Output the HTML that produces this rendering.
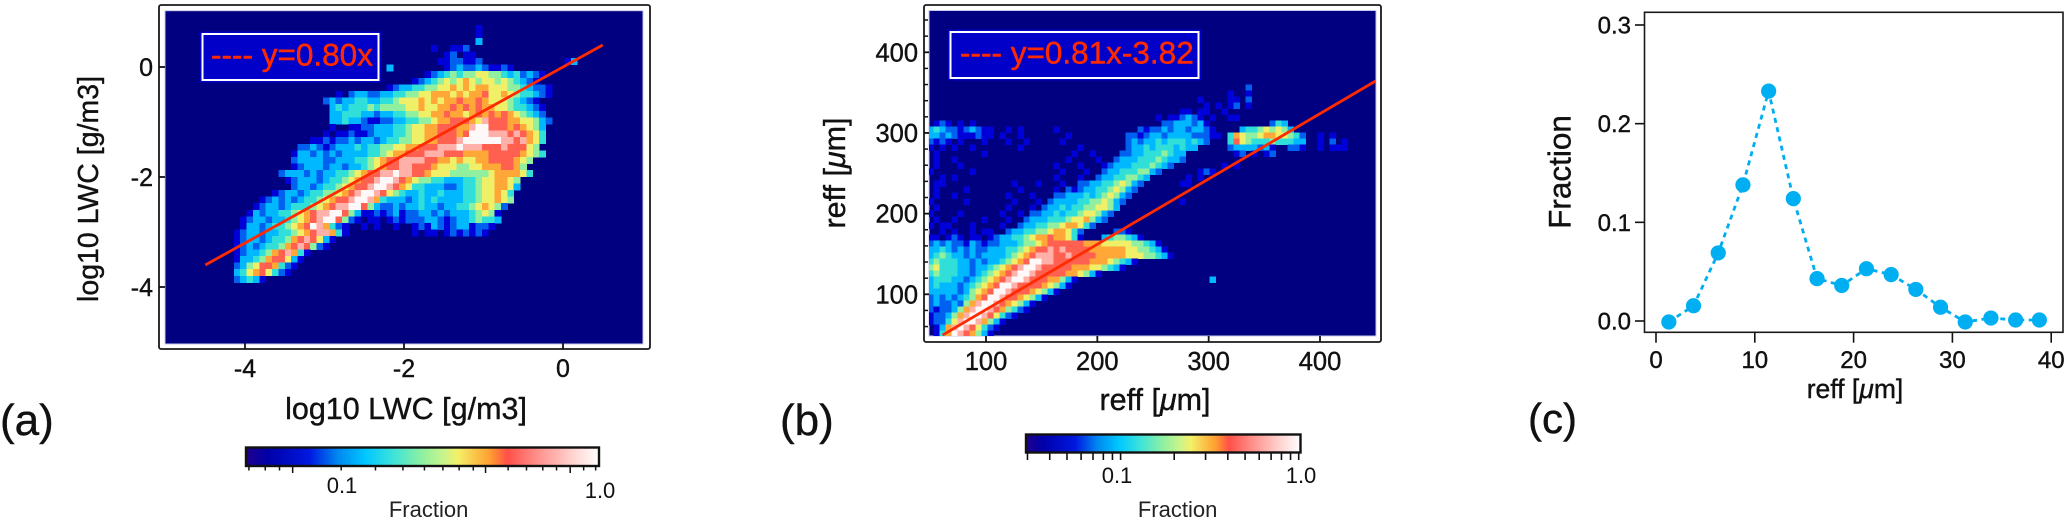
<!DOCTYPE html>
<html lang="en">
<head>
<meta charset="utf-8">
<title>LWC and effective radius comparison</title>
<style>
  html, body { margin: 0; padding: 0; background: #fff; }
  svg { display: block; font-family: "Liberation Sans", "DejaVu Sans", sans-serif; }
  text { fill: #111; stroke: #111; stroke-width: 0.4px; }
</style>
</head>
<body>
<svg id="chart" xmlns="http://www.w3.org/2000/svg" width="2067" height="520" viewBox="0 0 2067 520">
  <defs>
    <clipPath id="clip-a"><rect x="165" y="10.7" width="478" height="333.3"/></clipPath>
    <clipPath id="clip-b"><rect x="929" y="10.5" width="447" height="325.5"/></clipPath>
    <linearGradient id="jet-white" x1="0" x2="1" y1="0" y2="0">
      <stop offset="0" stop-color="#20008a"/>
      <stop offset="0.06" stop-color="#0000a8"/>
      <stop offset="0.18" stop-color="#0018e0"/>
      <stop offset="0.26" stop-color="#0088f0"/>
      <stop offset="0.34" stop-color="#00c8ff"/>
      <stop offset="0.42" stop-color="#40e4d8"/>
      <stop offset="0.50" stop-color="#90f0a0"/>
      <stop offset="0.56" stop-color="#c8f48c"/>
      <stop offset="0.60" stop-color="#f4f068"/>
      <stop offset="0.69" stop-color="#ffa030"/>
      <stop offset="0.74" stop-color="#ff5048"/>
      <stop offset="0.82" stop-color="#ff8c88"/>
      <stop offset="0.92" stop-color="#ffd0cc"/>
      <stop offset="1" stop-color="#ffffff"/>
    </linearGradient>
  </defs>

  <g id="panel-a">
    <rect x="165" y="10.7" width="478" height="333.3" fill="#000080" stroke="#c8c8e8" stroke-width="1"/>
    <g id="cells-a" clip-path="url(#clip-a)"></g>
    <g id="fit-a"></g>
    <rect x="159" y="5" width="491" height="344" rx="2" fill="none" stroke="#1a1a1a" stroke-width="1.8"/>
    <g id="ticks-a"></g>
    <g>
      <rect x="200" y="31.5" width="181" height="51" fill="#0000c8"/>
      <rect x="202.5" y="34" width="176" height="46" fill="#0000c8" stroke="#fff" stroke-width="2"/>
      <text x="211" y="65.5" font-size="31.5" style="fill:#ff2a00;stroke:#ff2a00;stroke-width:0.5px">---- y=0.80x</text>
    </g>
    <text x="406" y="419" font-size="30.5" text-anchor="middle">log10 LWC [g/m3]</text>
    <text transform="translate(98,189) rotate(-90)" font-size="28.5" text-anchor="middle">log10 LWC [g/m3]</text>
    <text x="0" y="435" font-size="44">(a)</text>
    <rect x="246" y="447.5" width="353" height="18.5" fill="url(#jet-white)" stroke="#111" stroke-width="2.4"/>
    <g id="cbar-a"></g>
    <text x="428.6" y="517" font-size="22" text-anchor="middle" style="fill:#222;stroke:none">Fraction</text>
  </g>

  <g id="panel-b">
    <rect x="929" y="10.5" width="447" height="325.5" fill="#000080" stroke="#c8c8e8" stroke-width="1"/>
    <g id="cells-b" clip-path="url(#clip-b)"></g>
    <g id="fit-b"></g>
    <rect x="924" y="5" width="457" height="337" rx="2" fill="none" stroke="#1a1a1a" stroke-width="1.8"/>
    <g id="ticks-b"></g>
    <g>
      <rect x="948" y="29.5" width="253" height="51" fill="#0000c8"/>
      <rect x="950.5" y="32" width="248" height="46" fill="#0000c8" stroke="#fff" stroke-width="2"/>
      <text x="960" y="63.5" font-size="31.5" style="fill:#ff2a00;stroke:#ff2a00;stroke-width:0.5px">---- y=0.81x-3.82</text>
    </g>
    <text x="1155" y="410" font-size="30.5" text-anchor="middle">reff [<tspan font-style="italic">μ</tspan>m]</text>
    <text transform="translate(845,173) rotate(-90)" font-size="30.5" text-anchor="middle">reff [<tspan font-style="italic">μ</tspan>m]</text>
    <text x="780" y="435" font-size="44">(b)</text>
    <rect x="1026" y="434.5" width="274.5" height="18" fill="url(#jet-white)" stroke="#111" stroke-width="2.4"/>
    <g id="cbar-b"></g>
    <text x="1177.6" y="517" font-size="22" text-anchor="middle" style="fill:#222;stroke:none">Fraction</text>
  </g>

  <g id="panel-c">
    <rect x="1644.5" y="12.3" width="418.5" height="320" fill="none" stroke="#1a1a1a" stroke-width="1.6"/>
    <g id="ticks-c"></g>
    <g id="series-c"></g>
    <text x="1855" y="398" font-size="26.5" text-anchor="middle">reff [<tspan font-style="italic">μ</tspan>m]</text>
    <text transform="translate(1570.5,172) rotate(-90)" font-size="31.5" text-anchor="middle">Fraction</text>
    <text x="1528" y="433" font-size="42">(c)</text>
  </g>
</svg>

<script>
// Panel (a): hand-read heatmap levels (0 = empty ... a = peak), one string per row, spaces ignored.
const heatARows = [
  "0000000000 0000000000 0000000000 0000000000 1",
  "0000000000 0000000000 0000000000 0000000000 1",
  "0000000000 0000000000 0000000000 0000000000 3",
  "0000000000 0000000000 0000000000 000 1001120",
  "0000000000 0000000000 0000000000 00000 12011",
  "0000000000 0000000000 0000000000 0000 1122112 0000000000000 13",
  "0000000000 0000000000 000000 3 00000000 12322321121",
  "0000000000 0000000000 0000000000 00 1234545566554342321",
  "0000000000 0000000000 0000000000 12345656765665654321",
  "0000000000 0000000000 000000 12334455667676776665543221",
  "0000000000 00000000 1023322334455667776767786676544321",
  "0000000000 000000 2323344334456667676778778766654321",
  "0000000000 0000000 3434445455556676677878787766544321",
  "0000000000 0000000 3344433233445566778776787878765432",
  "0000000000 0000000 33433211223344556778887698887766532",
  "0000000000 0000000 10011223334456677888779aa888787653",
  "0000000000 000000 10112112333445667788878aaa999898764",
  "0000000000 0000 112122323323445566778889aaaaaa9989764",
  "0000000000 00 2232123334344556677888999a999888988865",
  "0000000000 0 1332323233334456778889998887777888887654",
  "0000000000 0 233332233344567889999887767667 78888765",
  "0000000000 0 1233323323345678899888766655 667778875",
  "000000000 233323233445678899a998876665555 556777764",
  "0000000000 123332344567889aa9876554 4333445667765",
  "0000000000 0 2332344567889aa98764433 3223445667763",
  "00000000 12332344556789aa986543 3433433344566764",
  "000000 123232344567889aa97433 323434333344566765",
  "00000 123323444567899aa8532 2323343323344567652",
  "0000 1323344567899aa8531 121231223323233345651",
  "000 1233233456789aa852 1011012 1222332123345443",
  "000 13323445678a97421 0010100100 1213212331221",
  "00 123323344567899741 0000000000 10110121212100",
  "00 1233234457898631",
  "00 123234457898521",
  "00 123345789741",
  "00 13345788631",
  "00 2356887421",
  "00 346786421",
  "00 23431"
];
const heatAXStart = -4.3;
const heatAXStep = 0.08;
const heatAYStart = 0.7636;
const heatAYStep = 0.12;
const fitAX = [-4.5, 0.5];
const fitAY = [-3.6, 0.4];
const aXTicks = [-4, -2, 0];
const aYTicks = [0, -2, -4];
const cbarATicks = [0.0437, 0.0506, 0.0575, 0.0647, 0.1, 0.136, 0.174, 0.211, 0.249, 0.288, 0.327, 0.365, 0.447, 0.527, 0.61, 0.69, 0.78, 0.88, 0.98];
const cbarALongTicks = [0.0647, 0.365, 0.78];
const cbarALabels = ["0.1", "1.0"];

// Panel (b): hand-read heatmap levels.
const heatBRows = [
  "0000000000 0000000000 0000000000 0000000000 0000000000 000 2",
  "0000000000 0000000000 0000000000 0000000000 0000000000 1001",
  "0000000000 0000000000 0000000000 0000000000 00000 1 0000 11 0 2",
  "0000000000 0000000000 0000000000 0000000000 000000 10101201",
  "0000000000 0000000000 0000000000 0000000000 00 1101100100",
  "0000000000 0000000000 0000000000 00000000 10112321010011",
  "0121010100 0000000000 0000000000 000000000 22333231 0000000000 243",
  "3432212321 1001010000 0100000000 00000 2122323323321 0000 344565653",
  "3323211121 1010010000 0001000000 000 2212332333322211 0 4765567766542 00 101",
  "2121010001 0001001000 0010000000 000 23233434443432 000 4865444544433 00 10201",
  "1010100100 0000010000 0000010000 000 233434443433 00000 2333323100221 00 10111",
  "0100000001 0000000000 0000100100 00 22334445433 00000000 1201012",
  "0100100000 0000000000 0001000010 0 233344454332",
  "0100010000 0000000000 0100010001 23334445432 00000000 101",
  "1000000100 0000000000 001000100 2334445532 000000 121",
  "0010100000 0000000000 01000100 233445543 00000 0101",
  "0110000000 0000100010 00100 22334456532 0000 0011",
  "0100001000 0000010000 010 212334456532",
  "0100100000 0001000100 0 2233343456532",
  "1000001000 0000100010 2333344556532 000000000 10",
  "0100000000 000100010 2334344556653",
  "1000010000 0010010 22334344566532",
  "0100100001 000100 23334445667532",
  "1011000100 00100 2334455677642",
  "0010100101 100 2334455677642 00000 221",
  "1101210110 1233 445677877 64 1000 345543 1",
  "2323221321 2233345567 8888887776 666655431",
  "3343232322 3334456788 9898888777 7776655431",
  "3454332323 3334567899 9889888877 7776665543 1",
  "45444332323345678 aa 9988888877765431",
  "5644433233456789aa988888777665431",
  "454443323456789aa988888776531",
  "34443323456789aa988877531 0000000000 0000000000 00 3",
  "343332345678aa9888876531",
  "33333235678aa988876531",
  "2323234578aa98876531",
  "232232579aa9876531",
  "21223579aa9875421",
  "1223579aa986421",
  "122469aa97531",
  "01379a986421",
  "0147a98753100"
];
const heatBXStart = 47.6;
const heatBXStep = 5.39;
const heatBYStart = 360;
const heatBYStep = 7.44;
const fitBX = [61, 450];
const fitBY = [49.5, 364.4];
const bXTicks = [100, 200, 300, 400];
const bYTicks = [100, 200, 300, 400];
const bYMinorTicks = [60, 80, 120, 140, 160, 180, 220, 240, 260, 280, 320, 340, 360, 380, 420, 440];
const cbarBTicks = [0.03, 0.04, 0.05, 0.06, 0.07, 0.08, 0.09, 0.1, 0.2, 0.3, 0.4, 0.5, 0.6, 0.7, 0.8, 0.9, 1];
const cbarBLabels = ["0.1", "1.0"];

// Panel (c): fraction series.
const cReff = [1.3, 3.8, 6.3, 8.8, 11.4, 13.9, 16.3, 18.8, 21.3, 23.8, 26.3, 28.8, 31.3, 33.9, 36.4, 38.8];
const cFraction = [-0.001, 0.0155, 0.069, 0.138, 0.233, 0.124, 0.043, 0.036, 0.053, 0.047, 0.032, 0.014, -0.001, 0.003, 0.001, 0.001];
const cXTicks = [0, 10, 20, 30, 40];
const cYTicks = [0, 0.1, 0.2, 0.3];
const cYTickLabels = ["0.0", "0.1", "0.2", "0.3"];

const levelColors = ["#000080", "#0000d8", "#0060f0", "#00b8ff", "#30e0d8", "#90f0a0", "#f0f068", "#ffa838", "#ff6050", "#ffb0a8", "#fff8f8"];
const NS = "http://www.w3.org/2000/svg";

function make(parent, tag, attrs, content) {
  const el = document.createElementNS(NS, tag);
  for (const key in attrs) el.setAttribute(key, attrs[key]);
  if (content !== undefined) el.textContent = content;
  parent.appendChild(el);
  return el;
}

// Axis functions
const axAX = v => 563 + 79.5 * v;
const axAY = v => 67 - 55 * v;
const axBX = v => 986 + 1.1133 * (v - 100);
const axBY = v => 294.3 - 0.8067 * (v - 100);
const axCX = v => 1656 + 9.88 * v;
const axCY = v => 321 - 986.7 * v;
const cbarAX = v => 341.2 + 256.7 * Math.log10(v / 0.1);
const cbarBX = v => 1120.6 + 178.1 * Math.log10(v / 0.1);

function drawHeat(target, rows, xStart, xStep, yStart, yStep, fx, fy, name) {
  const host = document.getElementById(target);
  rows.forEach((row, r) => {
    const cells = row.replace(/ /g, "");
    for (let c = 0; c < cells.length; c++) {
      const level = parseInt(cells[c], 16);
      if (!level) continue;
      const x0 = fx(xStart + c * xStep);
      const x1 = fx(xStart + (c + 1) * xStep);
      const y0 = fy(yStart - r * yStep);
      const y1 = fy(yStart - (r + 1) * yStep);
      const cell = make(host, "rect", {
        x: x0.toFixed(2),
        y: y0.toFixed(2),
        width: (x1 - x0 + 0.4).toFixed(2),
        height: (y1 - y0 + 0.4).toFixed(2),
        fill: levelColors[level],
        "shape-rendering": "crispEdges"
      });
      
      
    }
  });
}

function drawFit(target, xs, ys, fx, fy, name) {
  const fit = make(document.getElementById(target), "line", {
    x1: fx(xs[0]), y1: fy(ys[0]), x2: fx(xs[1]), y2: fy(ys[1]),
    stroke: "#ff2a00", "stroke-width": 2.8
  });
  
  
}

function tickLine(host, x1, y1, x2, y2, width) {
  const t = make(host, "line", { x1: x1, y1: y1, x2: x2, y2: y2, stroke: "#111", "stroke-width": width });
  
  
  return t;
}

function tickText(host, x, y, size, anchor, str) {
  const t = make(host, "text", { x: x, y: y, "font-size": size, "text-anchor": anchor }, str);
  
  
  return t;
}

// Panel a
drawHeat("cells-a", heatARows, heatAXStart, heatAXStep, heatAYStart, heatAYStep, axAX, axAY, "heatmap-a-cell");
drawFit("fit-a", fitAX, fitAY, axAX, axAY, "fit-line-a-segment");
const ticksA = document.getElementById("ticks-a");
aXTicks.forEach(v => {
  tickLine(ticksA, axAX(v), 349, axAX(v), 343, 1.8);
  tickText(ticksA, axAX(v), 377, 25, "middle", String(v));
});
aYTicks.forEach(v => {
  tickLine(ticksA, 159, axAY(v), 165, axAY(v), 1.8);
  tickText(ticksA, 153, axAY(v) + 9, 25, "end", String(v));
});
const cbarA = document.getElementById("cbar-a");
cbarATicks.forEach(v => {
  tickLine(cbarA, cbarAX(v), 467, cbarAX(v), cbarALongTicks.includes(v) ? 473 : 470.5, 1.5);
});
tickText(cbarA, 342, 493, 22, "middle", cbarALabels[0]).style.stroke = "none";
tickText(cbarA, 600, 498, 22, "middle", cbarALabels[1]).style.stroke = "none";

// Panel b
drawHeat("cells-b", heatBRows, heatBXStart, heatBXStep, heatBYStart, heatBYStep, axBX, axBY, "heatmap-b-cell");
drawFit("fit-b", fitBX, fitBY, axBX, axBY, "fit-line-b-segment");
const ticksB = document.getElementById("ticks-b");
bXTicks.forEach(v => {
  tickLine(ticksB, axBX(v), 342, axBX(v), 336, 1.8);
  tickText(ticksB, axBX(v), 370, 25.5, "middle", String(v));
});
bYTicks.forEach(v => {
  tickLine(ticksB, 924, axBY(v), 929, axBY(v), 1.8);
  tickText(ticksB, 918, axBY(v) + 9, 25.5, "end", String(v));
});
bYMinorTicks.forEach(v => {
  tickLine(ticksB, 924, axBY(v), 928, axBY(v), 1.5);
});
const cbarB = document.getElementById("cbar-b");
cbarBTicks.forEach(v => {
  tickLine(cbarB, cbarBX(v), 453.5, cbarBX(v), 460, 1.6);
});
tickText(cbarB, 1117, 483, 22, "middle", cbarBLabels[0]).style.stroke = "none";
tickText(cbarB, 1301, 483, 22, "middle", cbarBLabels[1]).style.stroke = "none";

// Panel c
const ticksC = document.getElementById("ticks-c");
cXTicks.forEach(v => {
  tickLine(ticksC, axCX(v), 332.3, axCX(v), 342.7, 1.6);
  tickText(ticksC, axCX(v), 368, 24, "middle", String(v));
});
cYTicks.forEach((v, i) => {
  tickLine(ticksC, 1635, axCY(v), 1644.5, axCY(v), 1.6);
  tickText(ticksC, 1631, axCY(v) + 8.5, 24, "end", cYTickLabels[i]);
});
const seriesC = document.getElementById("series-c");
const dashed = make(seriesC, "polyline", {
  points: cReff.map((x, i) => axCX(x).toFixed(2) + "," + axCY(cFraction[i]).toFixed(2)).join(" "),
  fill: "none", stroke: "#00aeef", "stroke-width": 2.8, "stroke-dasharray": "5 4.5"
});


cReff.forEach((x, i) => {
  const dot = make(seriesC, "circle", { cx: axCX(x).toFixed(2), cy: axCY(cFraction[i]).toFixed(2), r: 7.6, fill: "#00aef2" });
  
  
});
</script>
</body>
</html>
